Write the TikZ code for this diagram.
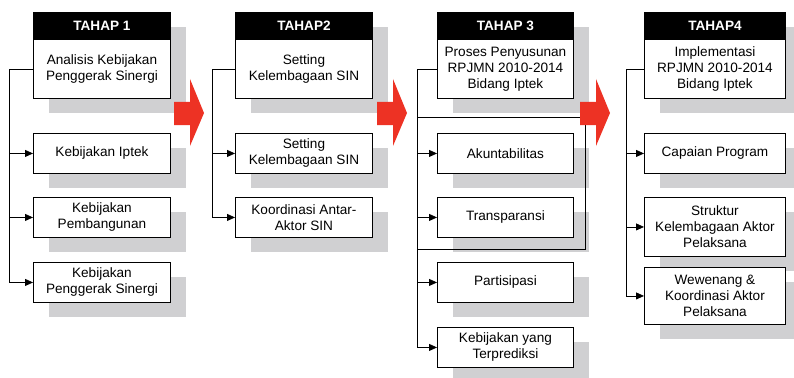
\documentclass[tikz,border=0pt]{standalone}
\usepackage{fontspec}
\setmainfont{Liberation Sans}
\usetikzlibrary{arrows.meta,shadows}
\definecolor{shadowgray}{RGB}{208,208,210}
\definecolor{redarrow}{RGB}{237,50,36}
\tikzset{
  boxbase/.style={draw=black, line width=0.9pt, fill=white, inner sep=0pt, align=center,
    font=\fontsize{13.6}{16}\selectfont, text=black, anchor=north west,
    drop shadow={shadow xshift=16pt, shadow yshift=-15pt, fill=shadowgray, opacity=1}},
  hdr/.style={boxbase, fill=black, text=white, font=\fontsize{13.6}{16}\selectfont\bfseries,
    minimum height=27pt},
  mainbox/.style={boxbase, minimum height=59pt},
  subbox/.style={boxbase, minimum height=40pt},
  conn/.style={line width=0.8pt, draw=black},
  arr/.style={conn, -{Triangle[length=8pt,width=7pt]}},
  bigarrow/.style={fill=redarrow, draw=none}
}
\begin{document}
\begin{tikzpicture}[x=1pt,y=-1pt]
\useasboundingbox (0,0) rectangle (794,377);
\clip (0,0) rectangle (794,377);

% ---------- Column 1 ----------
\begin{scope}[every node/.append style={minimum width=137pt}]
\node[hdr] (h1) at (33,12) {TAHAP 1};
\node[mainbox] (m1) at (33,39) {Analisis Kebijakan\\Penggerak Sinergi};
\node[subbox] (a1) at (33,133) {Kebijakan Iptek};
\node[subbox] (b1) at (33,197) {Kebijakan\\Pembangunan};
\node[subbox] (c1) at (33,262) {Kebijakan\\Penggerak Sinergi};
\end{scope}

% ---------- Column 2 ----------
\begin{scope}[every node/.append style={minimum width=137pt}]
\node[hdr] (h2) at (235,12) {TAHAP2};
\node[mainbox] (m2) at (235,39) {Setting\\Kelembagaan SIN};
\node[subbox] (a2) at (235,133) {Setting\\Kelembagaan SIN};
\node[subbox] (b2) at (235,197) {Koordinasi Antar-\\Aktor SIN};
\end{scope}

% ---------- Column 3 ----------
\begin{scope}[every node/.append style={minimum width=136pt}]
\node[hdr] (h3) at (437,12) {TAHAP 3};
\node[mainbox] (m3) at (437,39) {Proses Penyusunan\\RPJMN 2010-2014\\Bidang Iptek};
\node[subbox] (a3) at (437,133) {Akuntabilitas};
\node[subbox] (b3) at (437,197) {Transparansi};
\node[subbox] (c3) at (437,262) {Partisipasi};
\node[subbox] (d3) at (437,327) {Kebijakan yang\\Terprediksi};
\end{scope}

% ---------- Column 4 ----------
\begin{scope}[every node/.append style={minimum width=141pt}]
\node[hdr] (h4) at (644,12) {TAHAP4};
\node[mainbox] (m4) at (644,39) {Implementasi\\RPJMN 2010-2014\\Bidang Iptek};
\node[subbox] (a4) at (644,133) {Capaian Program};
\node[boxbase, minimum height=59pt] (b4) at (644,197) {Struktur\\Kelembagaan Aktor\\Pelaksana};
\node[boxbase, minimum height=57pt] (c4) at (644,267) {Wewenang \&\\Koordinasi Aktor\\Pelaksana};
\end{scope}

% ---------- Spines ----------
\coordinate (s1) at (9,0);
\coordinate (s2) at (212,0);
\coordinate (s3) at (417,0);
\coordinate (s4) at (626,0);

\draw[arr] (m1.west) -| (s1 |- c1.west) -- (c1.west);
\draw[arr] (s1 |- a1.west) -- (a1.west);
\draw[arr] (s1 |- b1.west) -- (b1.west);

\draw[arr] (m2.west) -| (s2 |- b2.west) -- (b2.west);
\draw[arr] (s2 |- a2.west) -- (a2.west);

\draw[arr] (m3.west) -| (s3 |- d3.west) -- (d3.west);
\draw[arr] (s3 |- a3.west) -- (a3.west);
\draw[arr] (s3 |- b3.west) -- (b3.west);
\draw[arr] (s3 |- c3.west) -- (c3.west);
\coordinate (l3a) at (417,117);
\coordinate (l3b) at (585,117);
\coordinate (l3c) at (585,249);
\coordinate (l3d) at (417,249);
\draw[conn] (l3a) -- (l3b) -- (l3c) -- (l3d);

\draw[arr] (m4.west) -| (s4 |- c4.west) -- (c4.west);
\draw[arr] (s4 |- a4.west) -- (a4.west);
\draw[arr] (s4 |- b4.west) -- (b4.west);

% ---------- Red stage arrows ----------
\fill[bigarrow] (174,102) -- (190,102) -- (190,79) -- (204,113) -- (190,146) -- (190,125) -- (174,125) -- cycle;
\fill[bigarrow] (377,102) -- (393,102) -- (393,79) -- (407,113) -- (393,146) -- (393,125) -- (377,125) -- cycle;
\fill[bigarrow] (580,102) -- (596,102) -- (596,79) -- (610,113) -- (596,146) -- (596,125) -- (580,125) -- cycle;
\end{tikzpicture}
\end{document}
